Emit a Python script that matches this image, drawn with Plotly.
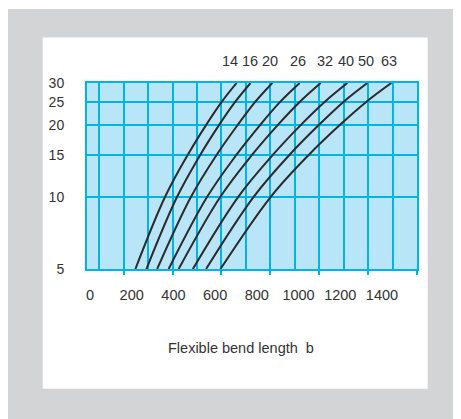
import plotly.graph_objects as go

# ---- data ----
y_levels = [5, 10, 15, 20, 25, 30]
sizes = ["14", "16", "20", "26", "32", "40", "50", "63"]
curve_14 = [248, 369, 462, 537, 601, 662]
curve_16 = [293, 418, 513, 590, 656, 719]
curve_20 = [337, 475, 580, 666, 738, 808]
curve_26 = [384, 541, 661, 758, 840, 920]
curve_32 = [425, 595, 725, 830, 920, 1006]
curve_40 = [483, 668, 810, 924, 1022, 1115]
curve_50 = [537, 731, 878, 998, 1099, 1197]
curve_63 = [596, 801, 957, 1084, 1192, 1295]
curves = [curve_14, curve_16, curve_20, curve_26, curve_32, curve_40, curve_50, curve_63]

x_tick_vals = [0, 200, 400, 600, 800, 1000, 1200, 1400]
x_tick_text = [str(v) for v in x_tick_vals]
y_tick_vals = [5, 10, 15, 20, 25, 30]
y_tick_text = [str(v) for v in y_tick_vals]
x_title = "Flexible bend length\u00a0 b"

# ---- styling ----
GRID = "#00b4e6"
PLOT_BG = "#b8e5f7"
FRAME = "#d3d4d6"
TXT = "#333333"
FONT = "Arial, Liberation Sans, sans-serif"
label_xshift = [-7, -1, -2, -2, 4, -1, -1, -2]

fig = go.Figure()
for vals, name in zip(curves, sizes):
    fig.add_trace(go.Scatter(x=vals, y=y_levels, mode="lines", name=name,
                             line=dict(color="#2b2b2b", width=2, shape="spline", smoothing=1.0),
                             hoverinfo="skip", showlegend=False))

# invisible trace that carries the label axis
fig.add_trace(go.Scatter(x=[x_tick_vals[0], x_tick_vals[-1]], y=[10, 10], xaxis="x2",
                         mode="markers", marker=dict(opacity=0), hoverinfo="skip",
                         showlegend=False))

# size labels at the top end of each curve
for vals, name, dx in zip(curves, sizes, label_xshift):
    fig.add_annotation(x=vals[-1], xref="x", y=1, yref="paper", yanchor="middle",
                       yshift=22, xshift=dx, text=name, showarrow=False,
                       font=dict(size=14.5, color=TXT, family=FONT))

fig.add_annotation(x=0.466, xref="paper", y=-0.426, yref="paper", text=x_title,
                   showarrow=False, xanchor="center", yanchor="middle",
                   font=dict(size=14.5, color=TXT, family=FONT))

shapes = [
    dict(type="rect", xref="paper", yref="paper", x0=-0.2515, x1=1.2, y0=-0.9, y1=1.398,
         fillcolor=FRAME, line=dict(width=0), layer="below"),
    dict(type="rect", xref="paper", yref="paper", x0=-0.1342, x1=1.0324, y0=-0.6435, y1=1.2446,
         fillcolor="white", line=dict(width=0), layer="below"),
    dict(type="rect", xref="paper", yref="paper", x0=0, x1=1, y0=0, y1=1,
         fillcolor=PLOT_BG, line=dict(width=0), layer="below"),
]

# the page body adds an 8 px offset, so the figure is 8 px smaller in each direction
fig.update_layout(
    width=453, height=411,
    margin=dict(l=79, r=44, t=75, b=150),
    paper_bgcolor="white", plot_bgcolor="rgba(0,0,0,0)",
    font=dict(family=FONT, color=TXT),
    shapes=shapes,
    xaxis=dict(range=[50, 1400], tickmode="linear", tick0=0, dtick=200,
               ticks="outside", ticklen=4, tickwidth=2, tickcolor=GRID,
               showticklabels=False, showgrid=True, gridcolor=GRID, gridwidth=2,
               minor=dict(tick0=0, dtick=100, showgrid=True, gridcolor=GRID, gridwidth=2, ticks=""),
               showline=True, mirror=True, linecolor=GRID, linewidth=2, zeroline=False),
    xaxis2=dict(overlaying="x", side="bottom", range=[-14.4, 1568],
                tickmode="array", tickvals=x_tick_vals, ticktext=x_tick_text,
                ticks="outside", ticklen=13, tickcolor="rgba(0,0,0,0)",
                showgrid=False, showline=False, zeroline=False,
                tickfont=dict(size=14.5, color=TXT, family=FONT)),
    yaxis=dict(type="log", range=[0.69897, 1.4771], tickmode="array",
               tickvals=y_tick_vals, ticktext=y_tick_text,
               ticks="outside", ticklen=18, tickcolor="rgba(0,0,0,0)",
               showgrid=True, gridcolor=GRID, gridwidth=2,
               showline=True, mirror=True, linecolor=GRID, linewidth=2, zeroline=False,
               tickfont=dict(size=14, color=TXT, family=FONT)),
)

fig.write_html("out.html")
